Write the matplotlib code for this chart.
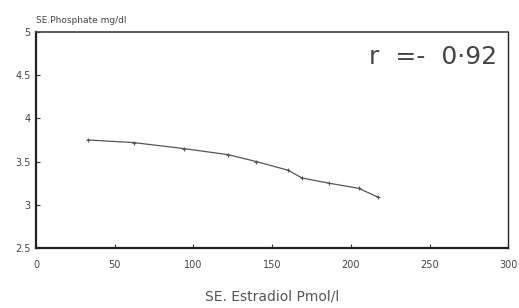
import matplotlib
matplotlib.use("Agg")
import matplotlib.pyplot as plt

# Data
estradiol = [33, 62, 94, 122, 140, 160, 169, 186, 205, 217]
phosphate = [3.75, 3.72, 3.65, 3.58, 3.50, 3.40, 3.31, 3.25, 3.19, 3.09]

x_ticks = [0, 50, 100, 150, 200, 250, 300]
x_tick_labels = ["0", "50", "100", "150", "200", "250", "300"]
y_ticks = [2.5, 3, 3.5, 4, 4.5, 5]
y_tick_labels = ["2.5", "3", "3.5", "4", "4.5", "5"]

fig = plt.figure(figsize=(5.19, 3.08), dpi=100)
ax = fig.add_axes([0.0694, 0.195, 0.910, 0.701])

ax.plot(estradiol, phosphate, color="#555555", linewidth=0.9,
        marker="+", markersize=3, markeredgewidth=0.8)

ax.set_xlim(0, 300)
ax.set_ylim(2.5, 5)
ax.set_xticks(x_ticks)
ax.set_xticklabels(x_tick_labels)
ax.set_yticks(y_ticks)
ax.set_yticklabels(y_tick_labels)
ax.tick_params(axis="both", direction="in", length=3, width=0.8,
               labelsize=7, colors="#333333", labelcolor="#444444")
ax.tick_params(axis="x", pad=9)
ax.tick_params(axis="y", pad=4)

for side, lw, c in [("left", 1.6, "#222222"), ("bottom", 1.6, "#222222"),
                    ("top", 1.2, "#444444"), ("right", 1.0, "#222222")]:
    ax.spines[side].set_linewidth(lw)
    ax.spines[side].set_color(c)

ax.text(0.977, 0.885, "r  =-  0·92", transform=ax.transAxes, ha="right",
        va="center", fontsize=18,
        family=["Liberation Sans Narrow", "DejaVu Sans"], color="#444444")

fig.text(0.069, 0.935, "SE.Phosphate mg/dl", ha="left", va="center",
         fontsize=6.5, color="#444444")
ax.set_xlabel("SE. Estradiol Pmol/l", fontsize=10, color="#555555", labelpad=14)

fig.savefig("out.png", dpi=100)
